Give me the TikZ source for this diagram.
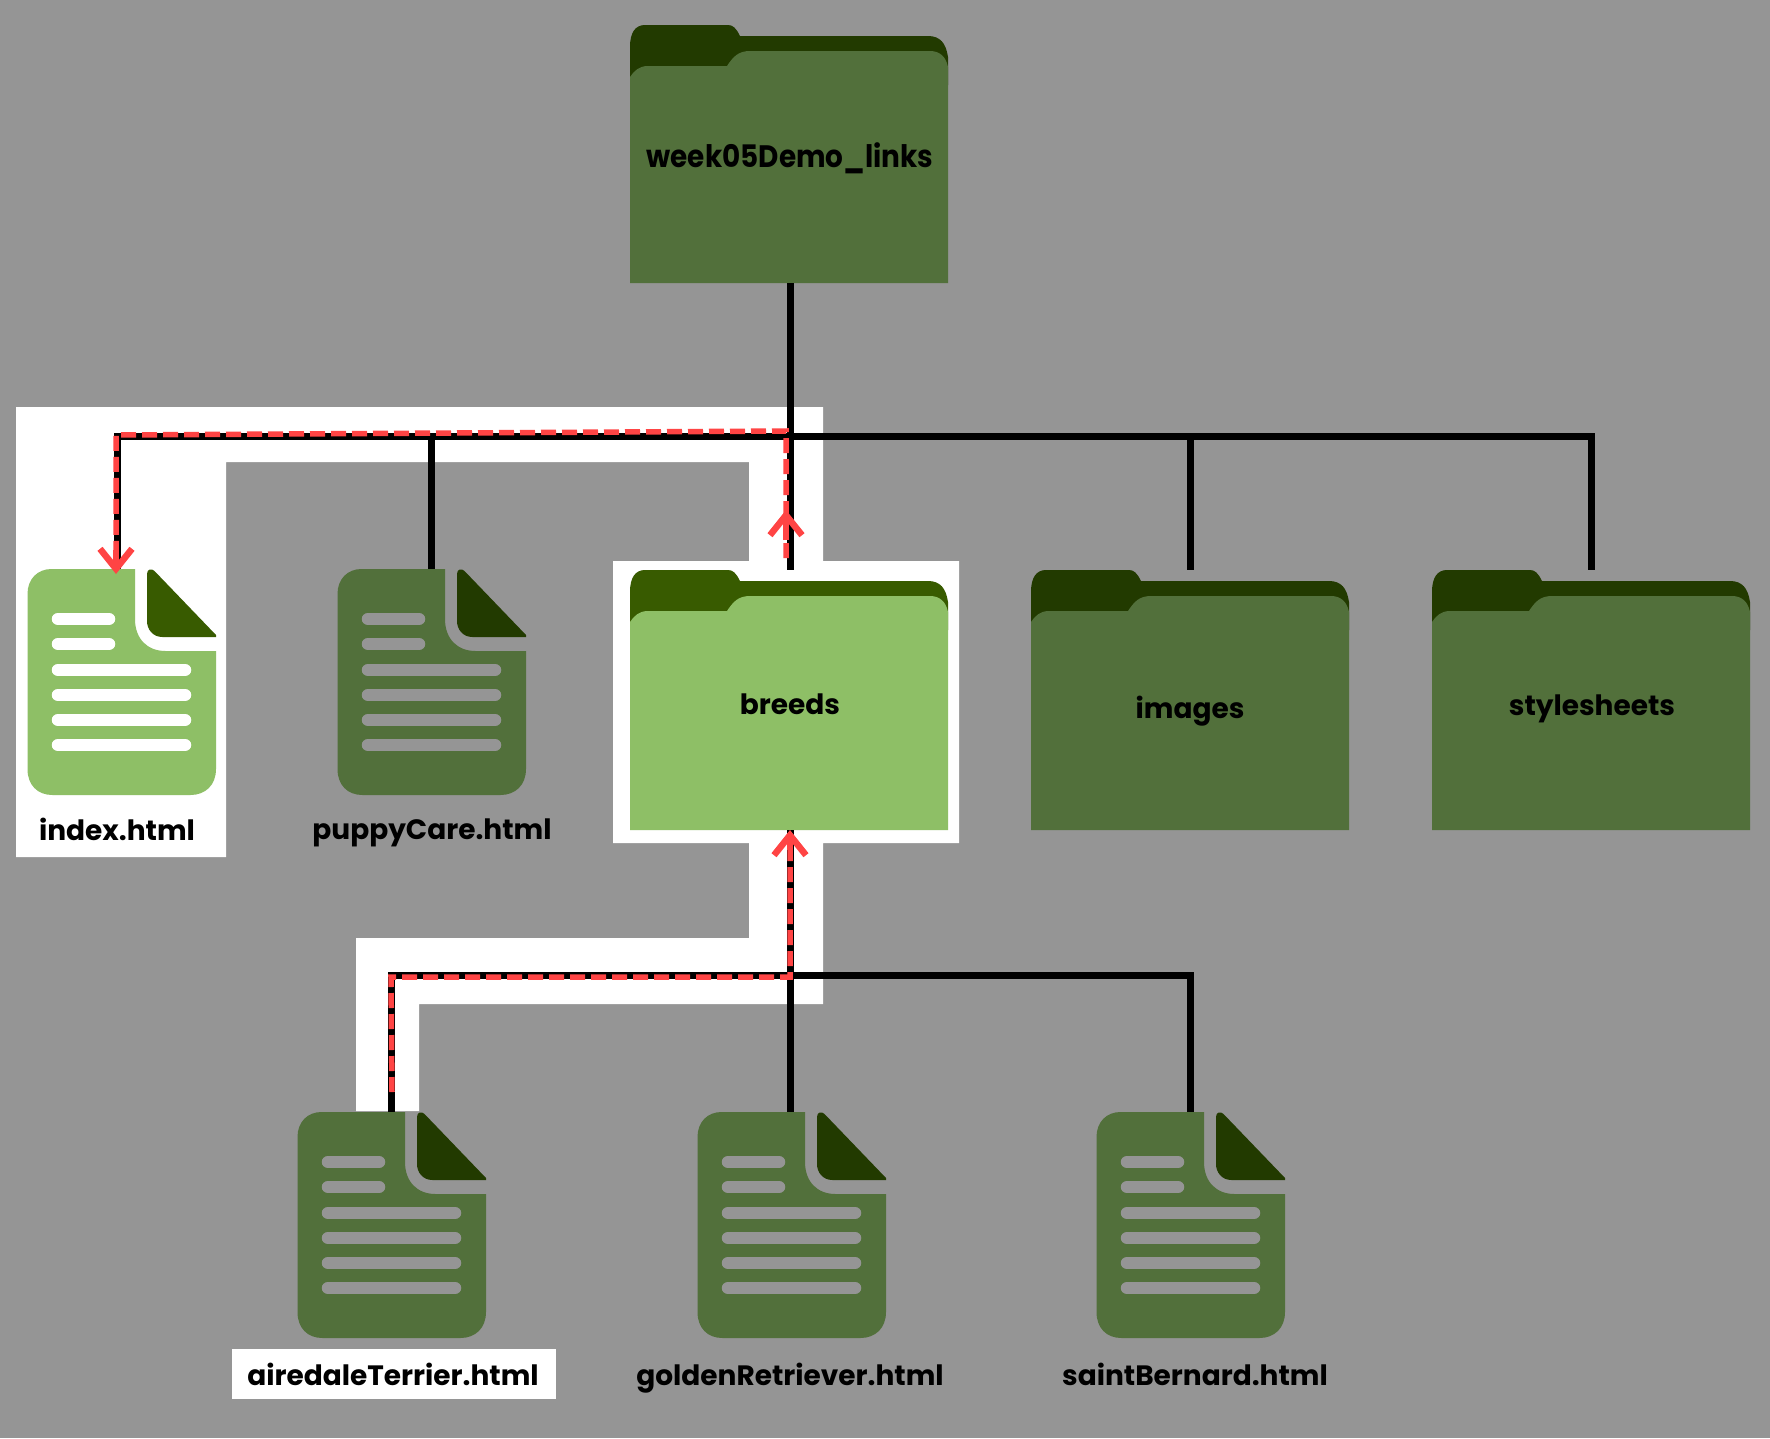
\documentclass[tikz,border=0pt]{standalone}
\usepackage{fontspec}
\setmainfont{Poppins}
\usetikzlibrary{arrows.meta}
\definecolor{bgG}{HTML}{959595}
\definecolor{dimFront}{HTML}{52703B}
\definecolor{dimBack}{HTML}{223A00}
\definecolor{hiFront}{HTML}{8EBF66}
\definecolor{hiBack}{HTML}{385B00}
\definecolor{routeR}{HTML}{FF4444}
\tikzset{
  x=1pt,y=-1pt,
  hitbox/.style={rectangle,inner sep=0pt,outer sep=0pt},
  labelbig/.style={inner sep=0pt,font=\bfseries\fontsize{31}{31}\selectfont},
  labelsmall/.style={inner sep=0pt,font=\bfseries\fontsize{28}{28}\selectfont},
  treeline/.style={draw=black,line width=7pt},
  routeline/.style={draw=routeR,line width=5.5pt,dash pattern=on 15pt off 6pt},
  routehead/.style={draw=routeR,line width=5.5pt,-{Straight Barb[length=20pt,width=32pt,line width=6.5pt]}},
  docline/.style={line width=12.5pt,line cap=round},
}
% folder: #1 name, #2 left, #3 top, #4 height, #5 front, #6 back
\newcommand{\folderbox}[6]{%
  \begin{scope}[shift={(#2,#3)}]
    \fill[#6] (0,52) -- (0,22) .. controls (0,8) and (5,0) .. (15,0) -- (98,0)
      .. controls (103,0) and (106,3) .. (110,11) -- (298,11)
      .. controls (310,11) and (316,18) .. (318,32) -- (318,60) -- (0,60) -- cycle;
    \fill[#5] (0,#4) -- (0,52) .. controls (4,46) and (9,41) .. (18,41) -- (97,41)
      .. controls (103,32) and (108,26) .. (120,26) -- (300,26)
      .. controls (310,26) and (316,32) .. (318,42) -- (318,#4) -- cycle;
    \node[hitbox,minimum width=318pt,minimum height=#4 pt,anchor=north west] (#1) at (0,0) {};
  \end{scope}}
% document: #1 name, #2 left, #3 top, #4 body, #5 fold, #6 bars
\newcommand{\docbox}[6]{%
  \begin{scope}[shift={(#2,#3)}]
    \fill[#4] (24,0) -- (107.5,0) -- (107.5,50) .. controls (107.5,70) and (120,82) .. (138,82)
      -- (188.5,82) -- (188.5,200) .. controls (188.5,216) and (178,226) .. (163,226)
      -- (25,226) .. controls (10,226) and (0,216) .. (0,200) -- (0,25)
      .. controls (0,10) and (10,0) .. (24,0) -- cycle;
    \fill[#5] (119.5,5) .. controls (119.5,0) and (124,-1) .. (127,2) -- (188.5,66)
      -- (188.5,68) -- (135,68) .. controls (125,68) and (119.5,60) .. (119.5,52) -- cycle;
    \foreach \yy in {50,75} \draw[docline,#6] (30.5,\yy) -- (81.5,\yy);
    \foreach \yy in {101,126,151,176} \draw[docline,#6] (30.5,\yy) -- (157.5,\yy);
    \node[hitbox,minimum width=188.5pt,minimum height=226pt,anchor=north west] (#1) at (0,0) {};
  \end{scope}}
\begin{document}
\begin{tikzpicture}
\useasboundingbox (0,0) rectangle (1770,1438);
\fill[bgG] (0,0) rectangle (1770,1438);
% highlight of the route
\fill[white] (16,407) -- (823,407) -- (823,561) -- (959,561) -- (959,843) -- (823,843)
  -- (823,1004) -- (419,1004) -- (419,1111) -- (356,1111) -- (356,938) -- (749,938)
  -- (749,843) -- (613,843) -- (613,561) -- (749,561) -- (749,462) -- (226,462)
  -- (226,857) -- (16,857) -- cycle;
\fill[white] (232,1349) rectangle (556,1399);
% folders
\folderbox{root}{630}{25}{258}{dimFront}{dimBack}
\folderbox{breeds}{630}{570}{260}{hiFront}{hiBack}
\folderbox{images}{1031}{570}{260}{dimFront}{dimBack}
\folderbox{styles}{1432}{570}{260}{dimFront}{dimBack}
% documents
\docbox{index}{27.5}{569}{hiFront}{hiBack}{white}
\docbox{puppy}{337.5}{569}{dimFront}{dimBack}{bgG}
\docbox{airedale}{297.5}{1112}{dimFront}{dimBack}{bgG}
\docbox{golden}{697.5}{1112}{dimFront}{dimBack}{bgG}
\docbox{saint}{1096.5}{1112}{dimFront}{dimBack}{bgG}
% labels
\node[labelbig] (lroot) at (790,158) {\scalebox{0.9}[1]{week05Demo\_links}};
\node[labelsmall] (lbreeds) at (790,704) {breeds};
\node[labelsmall] (limages) at (1190,711) {images};
\node[labelsmall] (lstyles) at (1592,709) {stylesheets};
\node[labelsmall] (lindex) at (117,829) {index.html};
\node[labelsmall] (lpuppy) at (432,833) {puppyCare.html};
\node[labelsmall] (lairedale) at (393,1374) {airedaleTerrier.html};
\node[labelsmall] (lgolden) at (790,1378) {goldenRetriever.html};
\node[labelsmall] (lsaint) at (1195,1374) {saintBernard.html};
% tree connectors
\coordinate (top) at (790,436);
\coordinate (low) at (790,975);
\coordinate (indexIn) at (117,569);
\draw[treeline] (top |- root.south) -- (top);
\draw[treeline] (top) -- (top |- breeds.north);
\draw[treeline] (top) -| (indexIn);
\draw[treeline] (top) -| (puppy.north);
\draw[treeline] (top) -| (images.north);
\draw[treeline] (top) -| (styles.north);
\draw[treeline] (low |- breeds.south) -- (low);
\draw[treeline] (low) -- (low |- golden.north);
\draw[treeline] (low) -| (airedale.north);
\draw[treeline] (low) -| (saint.north);
% red route
\coordinate (rA) at (392,1092);
\coordinate (rB) at (391,977);
\coordinate (rC) at (790,977);
\coordinate (rD) at (790,850);
\coordinate (rE) at (786,558);
\coordinate (rF) at (786,431);
\coordinate (rG) at (116,435);
\coordinate (rH) at (116,550);
\coordinate (rI) at (786,540);
\coordinate (rJ) at (786,510);
\coordinate (rK) at (116,574);
\draw[routeline] (rA) -- (rB) -- (rC) -- (rD);
\draw[routehead] (rD) -- (low |- breeds.south);
\draw[routeline] (rE) -- (rF) -- (rG) -- (rH);
\draw[routehead] (rI) -- (rJ);
\draw[routehead] (rH) -- (rK);
\end{tikzpicture}
\end{document}
